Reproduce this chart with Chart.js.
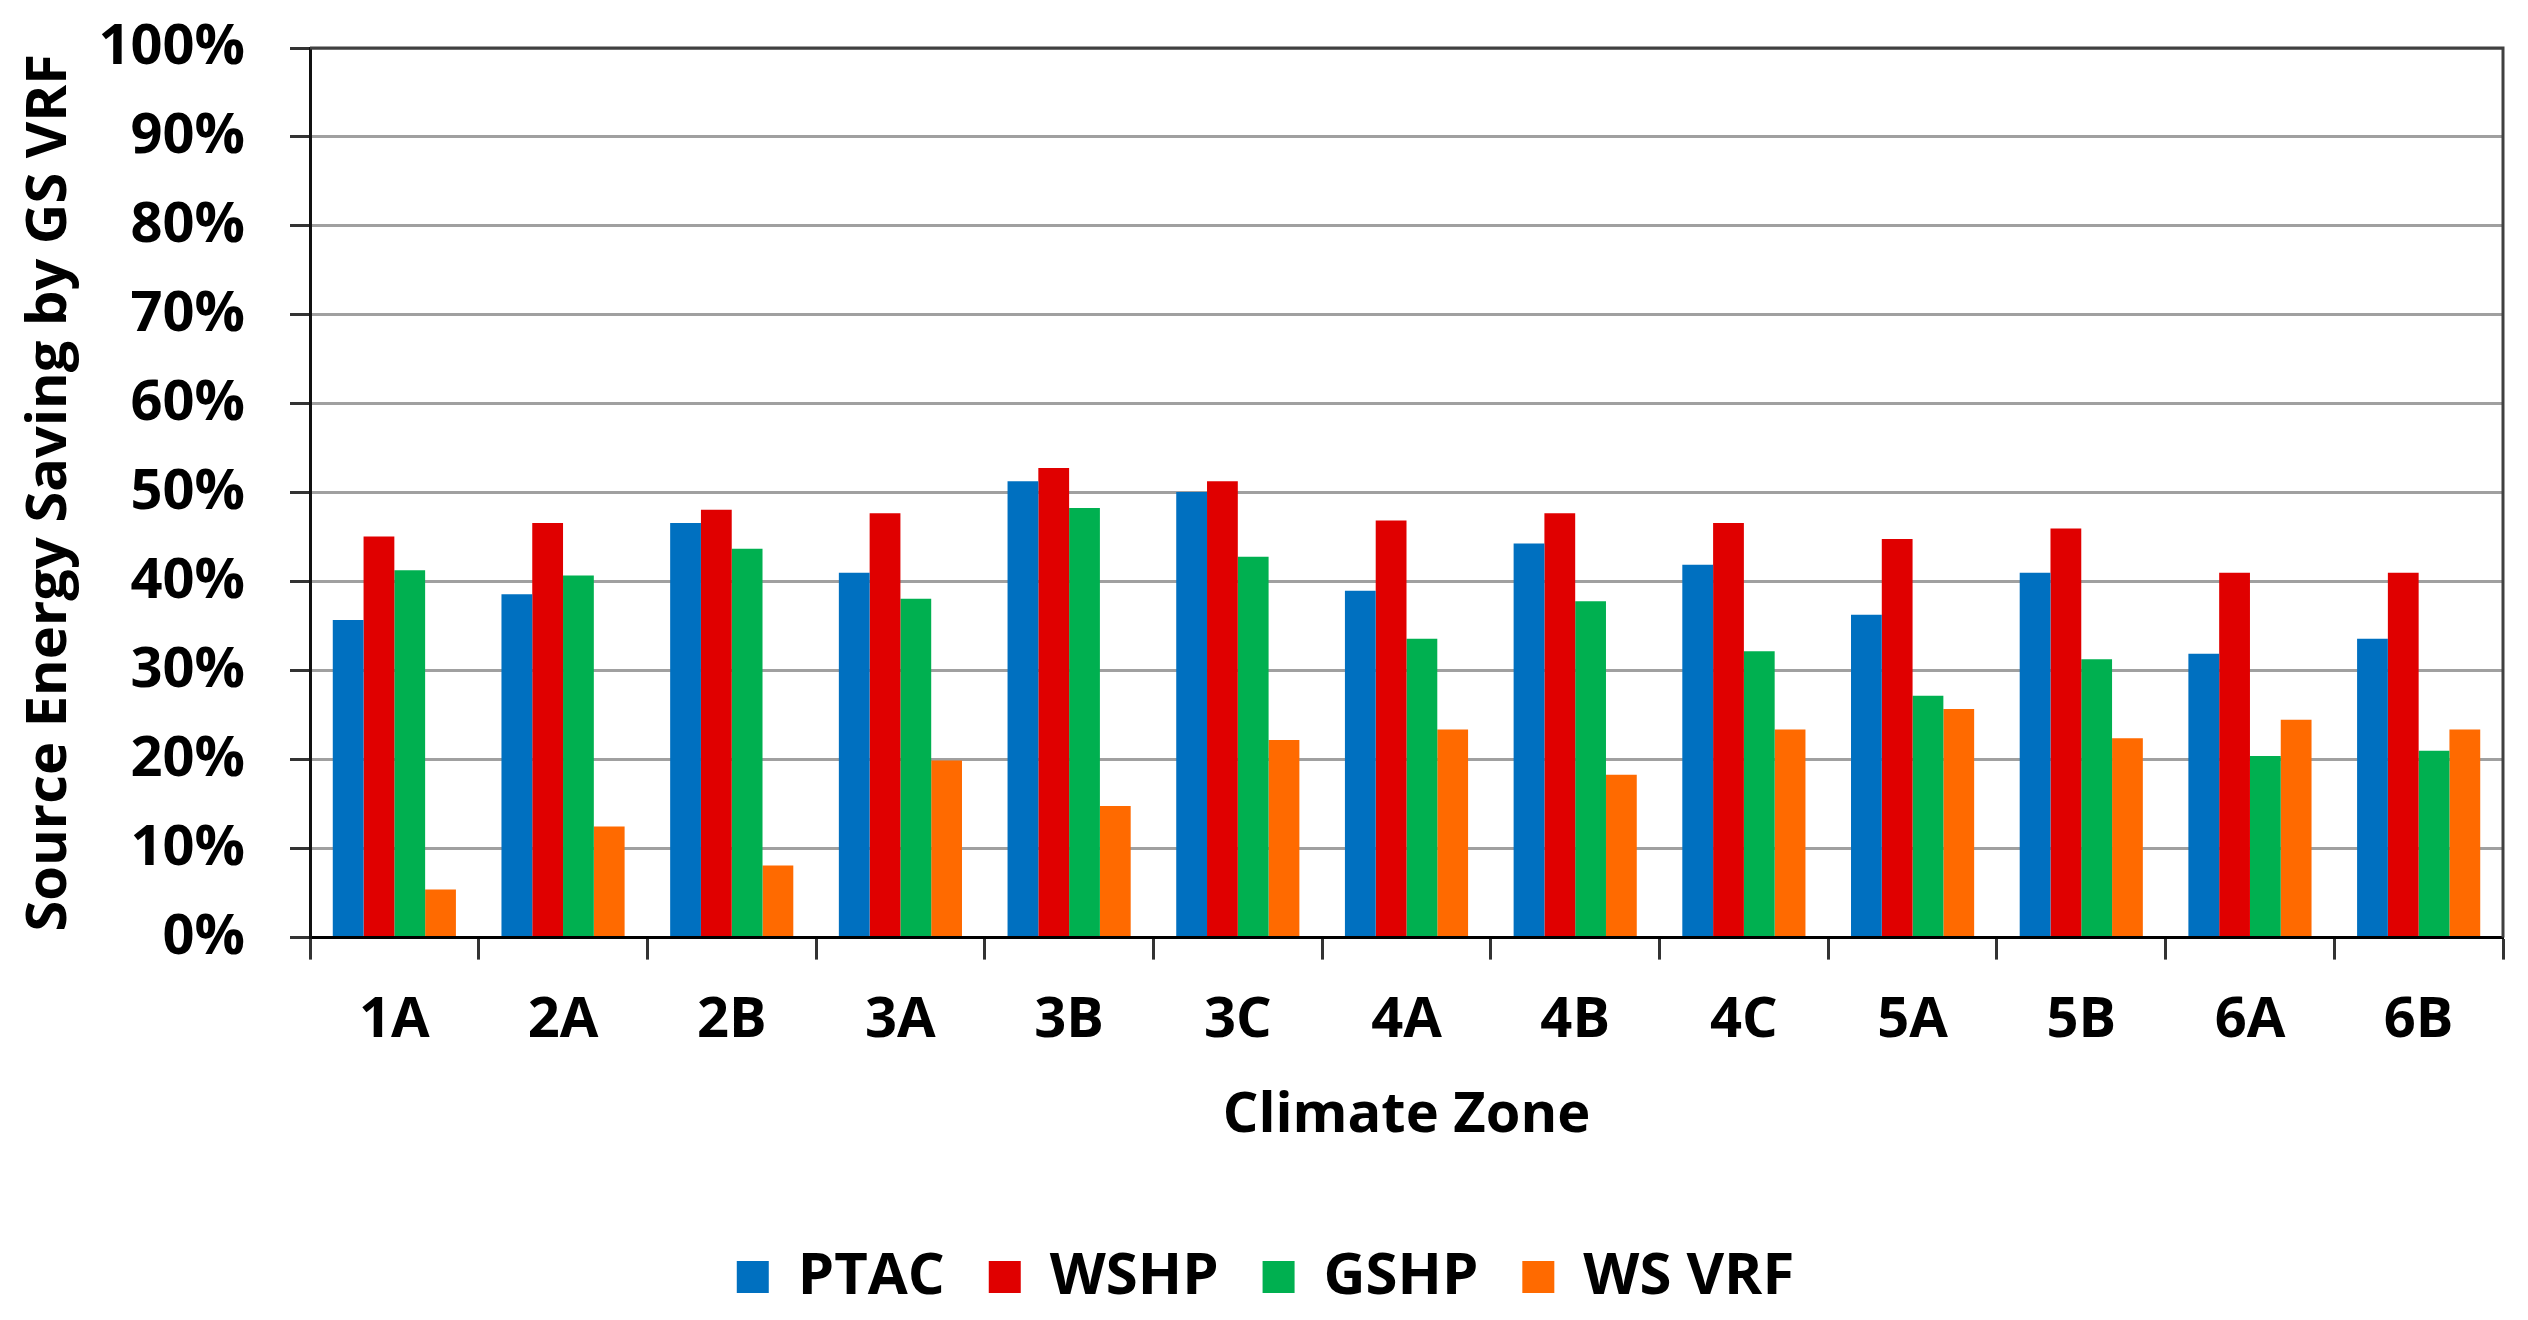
<!DOCTYPE html>
<html>
<head>
<meta charset="utf-8">
<script src="https://cdn.jsdelivr.net/npm/chart.js@4.4.1/dist/chart.umd.min.js"></script>
<style>
    html, body { margin: 0; padding: 0; background: #ffffff; }
    #wrap { width: 2528px; height: 1320px; }
</style>
</head>
<body>
<div id="wrap"><canvas id="barChart"></canvas></div>
<script>
// climate zones on the x axis
const zones = ['1A', '2A', '2B', '3A', '3B', '3C', '4A', '4B', '4C', '5A', '5B', '6A', '6B'];

// source energy saving by GS VRF, in percent
const ptac = [35.7, 38.6, 46.6, 41.0, 51.3, 50.1, 39.0, 44.3, 41.9, 36.3, 41.0, 31.9, 33.6];
const wshp = [45.1, 46.6, 48.1, 47.7, 52.8, 51.3, 46.9, 47.7, 46.6, 44.8, 46.0, 41.0, 41.0];
const gshp = [41.3, 40.7, 43.7, 38.1, 48.3, 42.8, 33.6, 37.8, 32.2, 27.2, 31.3, 20.4, 21.0];
const wsVrf = [5.4, 12.5, 8.1, 19.9, 14.8, 22.2, 23.4, 18.3, 23.4, 25.7, 22.4, 24.5, 23.4];

// y tick values
const yTicks = [0, 10, 20, 30, 40, 50, 60, 70, 80, 90, 100];

const fontFamily = "'Open Sans', 'Noto Sans', sans-serif";
const padLeft = 28;

// draw the top and right edges of the plot area box
const plotBorder = {
    id: 'plotBorder',
    afterDraw (chart) {
        const a = chart.chartArea;
        const ctx = chart.ctx;
        ctx.save();
        ctx.strokeStyle = '#404040';
        ctx.lineWidth = 3;
        ctx.beginPath();
        ctx.moveTo(a.left, a.top);
        ctx.lineTo(a.right, a.top);
        ctx.lineTo(a.right, a.bottom);
        ctx.stroke();
        ctx.restore();
    }
};

const data = {
    labels: zones,
    datasets: [
        { label: 'PTAC', data: ptac, backgroundColor: '#0070C0' },
        { label: 'WSHP', data: wshp, backgroundColor: '#E00000' },
        { label: 'GSHP', data: gshp, backgroundColor: '#00B050' },
        { label: 'WS VRF', data: wsVrf, backgroundColor: '#FF6A00' }
    ]
};

const config = {
    type: 'bar',
    data: data,
    plugins: [plotBorder],
    options: {
        responsive: true,
        maintainAspectRatio: false,
        devicePixelRatio: 1,
        animation: false,
        layout: {
            padding: { top: 48, right: 25, bottom: 4, left: padLeft }
        },
        datasets: {
            bar: {
                categoryPercentage: 0.73,
                barPercentage: 1.0
            }
        },
        plugins: {
            tooltip: { enabled: false },
            legend: {
                position: 'bottom',
                labels: {
                    boxWidth: 32,
                    boxHeight: 32,
                    padding: 44,
                    color: '#000',
                    font: { family: fontFamily, size: 58, weight: 'bold' }
                }
            }
        },
        scales: {
            x: {
                grid: {
                    display: true,
                    drawOnChartArea: false,
                    drawTicks: true,
                    tickLength: 22,
                    tickColor: '#333',
                    tickWidth: 3,
                    offset: true
                },
                border: { color: '#000', width: 3 },
                ticks: {
                    color: '#000',
                    padding: 28,
                    font: { family: fontFamily, size: 56, weight: 'bold' }
                },
                title: {
                    display: true,
                    text: 'Climate Zone',
                    color: '#000',
                    padding: { top: 0, bottom: 54 },
                    font: { family: fontFamily, size: 56, weight: 'bold' }
                }
            },
            y: {
                min: 0,
                max: 100,
                afterBuildTicks (scale) {
                    scale.ticks = yTicks.map(v => ({ value: v }));
                },
                afterFit (scale) {
                    // fixed axis width, and no extra room above the plot for the top label
                    scale.width = 310 - padLeft;
                    scale.paddingTop = 0;
                    scale.paddingBottom = 0;
                },
                grid: {
                    color: '#a0a0a0',
                    lineWidth: 3,
                    tickLength: 20,
                    tickColor: '#333',
                    tickWidth: 3
                },
                border: { color: '#111', width: 3 },
                ticks: {
                    color: '#000',
                    padding: 45,
                    font: { family: fontFamily, size: 56, weight: 'bold' },
                    callback: v => v + '%'
                },
                title: {
                    display: true,
                    text: 'Source Energy Saving by GS VRF',
                    color: '#000',
                    padding: { top: -12, bottom: 0 },
                    font: { family: fontFamily, size: 56, weight: 'bold' }
                }
            }
        }
    }
};

const myChart = new Chart(document.getElementById('barChart'), config);
</script>
</body>
</html>
